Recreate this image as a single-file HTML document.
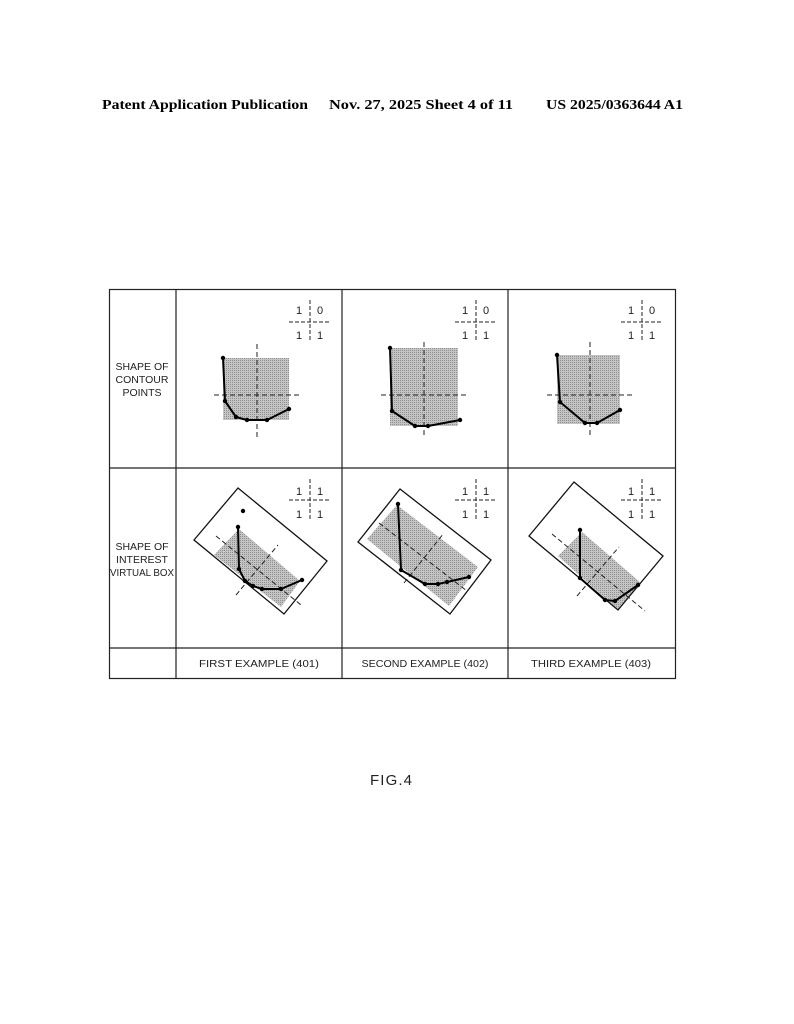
<!DOCTYPE html>
<html><head><meta charset="utf-8"><style>
html,body{margin:0;padding:0;background:#fff;}
svg{display:block;}
</style></head><body>
<svg width="794" height="1024" viewBox="0 0 794 1024" xmlns="http://www.w3.org/2000/svg">
<defs>
<pattern id="dots" width="2" height="2" patternUnits="userSpaceOnUse">
<rect width="2" height="2" fill="#c4c4c4"/><rect width="1" height="1" fill="#909090"/>
</pattern>
</defs>
<g font-family="Liberation Serif, serif" font-weight="bold" font-size="14" fill="#000">
<text x="102" y="109" textLength="206" lengthAdjust="spacingAndGlyphs">Patent Application Publication</text>
<text x="329" y="109" textLength="184" lengthAdjust="spacingAndGlyphs">Nov. 27, 2025  Sheet 4 of 11</text>
<text x="546" y="109" textLength="137" lengthAdjust="spacingAndGlyphs">US 2025/0363644 A1</text>
</g>
<g stroke="#222" stroke-width="1.2" fill="none">
<rect x="109.5" y="289.5" width="566" height="389"/>
<line x1="176" y1="289" x2="176" y2="679"/>
<line x1="342" y1="289" x2="342" y2="679"/>
<line x1="508" y1="289" x2="508" y2="679"/>
<line x1="109" y1="468" x2="676" y2="468"/>
<line x1="109" y1="648" x2="676" y2="648"/>
</g>
<g font-family="Liberation Sans, sans-serif" font-size="10.5" fill="#222" text-anchor="middle">
<text x="142" y="370">SHAPE OF</text>
<text x="142" y="383">CONTOUR</text>
<text x="142" y="396">POINTS</text>
<text x="142" y="550">SHAPE OF</text>
<text x="142" y="563">INTEREST</text>
<text x="142" y="576" textLength="64" lengthAdjust="spacingAndGlyphs">VIRTUAL BOX</text>
</g>
<g font-family="Liberation Sans, sans-serif" font-size="10" fill="#222" text-anchor="middle">
<text x="259" y="667" textLength="120" lengthAdjust="spacingAndGlyphs">FIRST EXAMPLE (401)</text>
<text x="425" y="667" textLength="127" lengthAdjust="spacingAndGlyphs">SECOND EXAMPLE (402)</text>
<text x="591" y="667" textLength="120" lengthAdjust="spacingAndGlyphs">THIRD EXAMPLE (403)</text>
<text x="391" y="785" font-size="15" textLength="42" lengthAdjust="spacing">FIG.4</text>
</g>
<g font-family="Liberation Sans, sans-serif" font-size="11" fill="#222" text-anchor="middle">
<text x="299" y="314">1</text><text x="320" y="314">0</text><text x="299" y="339">1</text><text x="320" y="339">1</text>
<text x="465" y="314">1</text><text x="486" y="314">0</text><text x="465" y="339">1</text><text x="486" y="339">1</text>
<text x="631" y="314">1</text><text x="652" y="314">0</text><text x="631" y="339">1</text><text x="652" y="339">1</text>
<text x="299" y="495">1</text><text x="320" y="495">1</text><text x="299" y="518">1</text><text x="320" y="518">1</text>
<text x="465" y="495">1</text><text x="486" y="495">1</text><text x="465" y="518">1</text><text x="486" y="518">1</text>
<text x="631" y="495">1</text><text x="652" y="495">1</text><text x="631" y="518">1</text><text x="652" y="518">1</text>
</g>
<g stroke="#222" stroke-width="1" stroke-dasharray="4,2" fill="none">
<line x1="310" y1="300" x2="310" y2="342"/><line x1="289" y1="322" x2="331" y2="322"/>
<line x1="476" y1="300" x2="476" y2="342"/><line x1="455" y1="322" x2="497" y2="322"/>
<line x1="642" y1="300" x2="642" y2="342"/><line x1="621" y1="322" x2="663" y2="322"/>
<line x1="310" y1="479" x2="310" y2="521"/><line x1="289" y1="500" x2="331" y2="500"/>
<line x1="476" y1="479" x2="476" y2="521"/><line x1="455" y1="500" x2="497" y2="500"/>
<line x1="642" y1="479" x2="642" y2="521"/><line x1="621" y1="500" x2="663" y2="500"/>
</g>
<rect x="223" y="358" width="66" height="62" fill="url(#dots)"/>
<rect x="390" y="348" width="68" height="78" fill="url(#dots)"/>
<rect x="557" y="355" width="63" height="69" fill="url(#dots)"/>
<polygon points="214,555 239,529 300,581 281,607" fill="url(#dots)"/>
<polygon points="367,539 397,505 478,567 449,606" fill="url(#dots)"/>
<polygon points="558,556 582,532 641,583 618,610" fill="url(#dots)"/>
<g stroke="#111" stroke-width="1.3" fill="none">
<polygon points="238,488 327,561 284,614 194,540"/>
<polygon points="400,489 491,560 450,614 358,542"/>
<polygon points="574,482 663,556 618,610 529,536"/>
</g>
<g stroke="#222" stroke-width="1" stroke-dasharray="5,3" fill="none">
<line x1="257" y1="344" x2="257" y2="437"/><line x1="214" y1="395" x2="301" y2="395"/>
<line x1="424" y1="342" x2="424" y2="437"/><line x1="381" y1="395" x2="466" y2="395"/>
<line x1="590" y1="342" x2="590" y2="437"/><line x1="547" y1="395" x2="632" y2="395"/>
<line x1="216" y1="536" x2="301" y2="605"/><line x1="236" y1="595" x2="278" y2="545"/>
<line x1="379" y1="523" x2="467" y2="591"/><line x1="404" y1="583" x2="444" y2="533"/>
<line x1="552" y1="534" x2="645" y2="611"/><line x1="577" y1="596" x2="619" y2="547"/>
</g>
<g stroke="#000" stroke-width="2" fill="none" stroke-linejoin="round">
<polyline points="223,358 225,401 236,417 247,420 267,420 289,409"/>
<polyline points="390,348 392,411 415,426 428,426 460,420"/>
<polyline points="557,355 560,402 585,423 597,423 620,410"/>
<polyline points="238,527 239,569 245,581 253,586 262,589 281,589 302,580"/>
<polyline points="398,504 401,570 425,584 438,584 447,582 469,577"/>
<polyline points="580,530 580,578 605,600 615,601 638,585"/>
</g>
<g fill="#000">
<circle cx="223" cy="358" r="2.2"/><circle cx="225" cy="401" r="2.2"/><circle cx="236" cy="417" r="2.2"/><circle cx="247" cy="420" r="2.2"/><circle cx="267" cy="420" r="2.2"/><circle cx="289" cy="409" r="2.2"/>
<circle cx="390" cy="348" r="2.2"/><circle cx="392" cy="411" r="2.2"/><circle cx="415" cy="426" r="2.2"/><circle cx="428" cy="426" r="2.2"/><circle cx="460" cy="420" r="2.2"/>
<circle cx="557" cy="355" r="2.2"/><circle cx="560" cy="402" r="2.2"/><circle cx="585" cy="423" r="2.2"/><circle cx="597" cy="423" r="2.2"/><circle cx="620" cy="410" r="2.2"/>
<circle cx="243" cy="511" r="2.2"/>
<circle cx="238" cy="527" r="2.2"/><circle cx="239" cy="569" r="2.2"/><circle cx="245" cy="581" r="2.2"/><circle cx="253" cy="586" r="2.2"/><circle cx="262" cy="589" r="2.2"/><circle cx="281" cy="589" r="2.2"/><circle cx="302" cy="580" r="2.2"/>
<circle cx="398" cy="504" r="2.2"/><circle cx="401" cy="570" r="2.2"/><circle cx="425" cy="584" r="2.2"/><circle cx="438" cy="584" r="2.2"/><circle cx="447" cy="582" r="2.2"/><circle cx="469" cy="577" r="2.2"/>
<circle cx="580" cy="530" r="2.2"/><circle cx="580" cy="578" r="2.2"/><circle cx="605" cy="600" r="2.2"/><circle cx="615" cy="601" r="2.2"/><circle cx="638" cy="585" r="2.2"/>
</g>
</svg>
</body></html>
